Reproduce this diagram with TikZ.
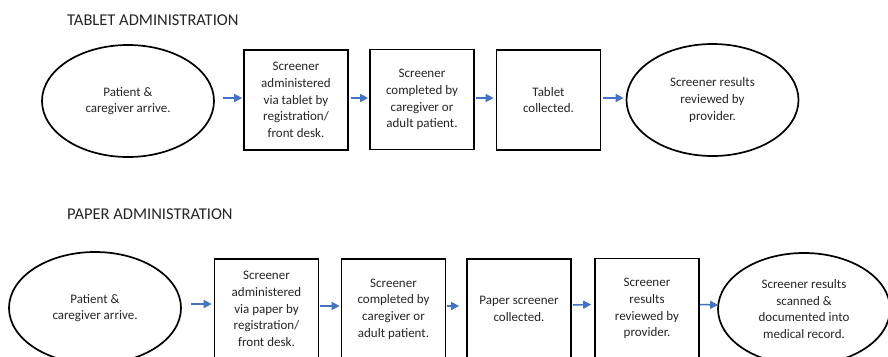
\documentclass[tikz,border=0pt]{standalone}
\usepackage{fontspec}
\setmainfont{Carlito}
\usetikzlibrary{shapes.geometric,arrows.meta}
\definecolor{arrblue}{RGB}{68,114,196}
\definecolor{txt}{RGB}{38,38,38}
\tikzset{
  every node/.style={text=txt},
  stepbox/.style={draw=black, line width=1.7pt, rectangle, minimum width=104pt, minimum height=100pt, inner sep=0pt, align=center, font=\fontsize{13}{16.7}\selectfont},
  oval/.style={draw=black, line width=1.7pt, ellipse, minimum width=172pt, minimum height=112pt, inner sep=0pt, align=center, font=\fontsize{13}{16.7}\selectfont},
  title/.style={anchor=base west, inner sep=0pt, font=\fontsize{16.5}{19}\selectfont},
  arr/.style={draw=arrblue, line width=1.5pt, -{Triangle[length=8pt,width=8pt]}}
}
\begin{document}
\begin{tikzpicture}[x=1pt,y=-1pt]
\useasboundingbox (0,0) rectangle (888,356);
\clip (0,0) rectangle (888,356);
\fill[white] (0,0) rectangle (888,356);

\node[title] (t1) at (67,25) {TABLET ADMINISTRATION};
\node[oval] (e1) at (128,101) {Patient \&\\caregiver arrive.};
\node[stepbox] (b1) at (296,100) {Screener\\administered\\via tablet by\\registration/\\front desk.};
\node[stepbox] (b2) at (422,99.5) {Screener\\completed by\\caregiver or\\adult patient.};
\node[stepbox] (b3) at (548.5,100) {Tablet\\collected.};
\node[oval] (e2) at (712.5,100) {Screener results\\reviewed by\\provider.};

\draw[arr] ([xshift=8pt,yshift=3pt]e1.east) -- ([xshift=-1pt,yshift=2pt]b1.west);
\draw[arr] ([xshift=2pt,yshift=2pt]b1.east) -- ([xshift=-1pt,yshift=1.5pt]b2.west);
\draw[arr] ([xshift=1pt,yshift=1.5pt]b2.east) -- ([xshift=-2pt,yshift=2pt]b3.west);
\draw[arr] ([xshift=2pt,yshift=2pt]b3.east) -- ([xshift=-2pt,yshift=2pt]e2.west);

\node[title] (t2) at (67,219.5) {PAPER ADMINISTRATION};
\node[oval] (e3) at (95,308) {Patient \&\\caregiver arrive.};
\node[stepbox] (b4) at (266.5,309) {Screener\\administered\\via paper by\\registration/\\front desk.};
\node[stepbox] (b5) at (393.5,309) {Screener\\completed by\\caregiver or\\adult patient.};
\node[stepbox] (b6) at (519,309) {Paper screener\\collected.};
\node[stepbox] (b7) at (647,308.5) {Screener\\results\\reviewed by\\provider.};
\node[oval] (e4) at (804,309) {Screener results\\scanned \&\\documented into\\medical record.};

\draw[arr] ([xshift=9pt,yshift=4pt]e3.east) -- ([xshift=-2pt,yshift=5pt]b4.west);
\draw[arr] ([xshift=1pt,yshift=3pt]b4.east) -- ([xshift=-1pt,yshift=3pt]b5.west);
\draw[arr] ([xshift=1pt,yshift=3pt]b5.east) -- ([xshift=-7pt,yshift=3pt]b6.west);
\draw[arr] ([xshift=1pt,yshift=4pt]b6.east) -- ([xshift=-3pt,yshift=4pt]b7.west);
\draw[arr] ([xshift=0pt,yshift=4pt]b7.east) -- ([xshift=1pt,yshift=4pt]e4.west);
\end{tikzpicture}
\end{document}
